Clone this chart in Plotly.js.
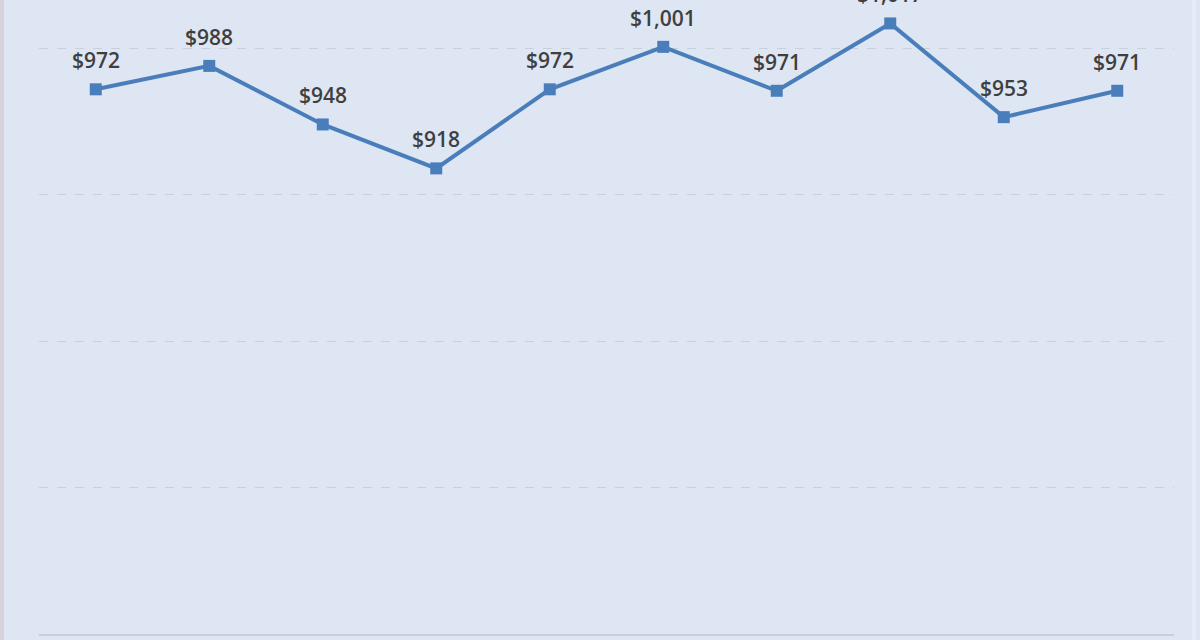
<!DOCTYPE html>
<html>
<head>
<meta charset="utf-8">
<script src="https://cdn.plot.ly/plotly-3.0.1.min.js"></script>
<style>
html,body{margin:0;padding:0;background:#dde6f2;}
#chart{width:1200px;height:640px;}
</style>
</head>
<body>
<div id="chart"></div>
<script>
const categories = ["P1","P2","P3","P4","P5","P6","P7","P8","P9","P10"];
const values = [972, 988, 948, 918, 972, 1001, 971, 1017, 953, 971];
const labels = values.map(v => "$" + v.toLocaleString("en-US"));

const trace = {
  type: "scatter",
  mode: "lines+markers",
  x: categories,
  y: values,
  line: {color: "#4a7ebb", width: 4},
  marker: {symbol: "square", size: 12, color: "#4a7ebb"},
  cliponaxis: false,
  hoverinfo: "skip"
};

const annotations = categories.map((c, i) => ({
  x: c,
  y: values[i],
  xref: "x",
  yref: "y",
  text: labels[i],
  showarrow: false,
  yshift: 29,
  font: {family: "Open Sans, sans-serif", size: 21, color: "#3f3f3f", weight: 600}
}));

const layout = {
  width: 1200,
  height: 640,
  margin: {l: 39, r: 26, t: 0, b: 6},
  paper_bgcolor: "#dde6f2",
  plot_bgcolor: "#dde6f2",
  showlegend: false,
  annotations: annotations,
  xaxis: {
    type: "category",
    range: [-0.5, 9.5],
    showticklabels: false,
    showgrid: false,
    zeroline: false,
    showline: true,
    linecolor: "#c9cfd8",
    linewidth: 2,
    ticks: ""
  },
  yaxis: {
    range: [600, 1033],
    dtick: 100,
    tick0: 600,
    showticklabels: false,
    showgrid: true,
    gridcolor: "#c8d0dc",
    griddash: "dash",
    gridwidth: 1,
    zeroline: false,
    showline: false,
    ticks: ""
  },
  shapes: [
    {type: "rect", xref: "paper", yref: "paper", x0: -39/1135, x1: -35/1135, y0: -6/634, y1: 1,
     fillcolor: "#d6d3dc", line: {width: 0}, layer: "below"},
    {type: "rect", xref: "paper", yref: "paper", x0: 1+18/1135, x1: 1+22/1135, y0: -6/634, y1: 1,
     fillcolor: "#e6ecf5", line: {width: 0}, layer: "below"}
  ]
};

Plotly.newPlot("chart", [trace], layout, {staticPlot: true, displayModeBar: false});
</script>
</body>
</html>
